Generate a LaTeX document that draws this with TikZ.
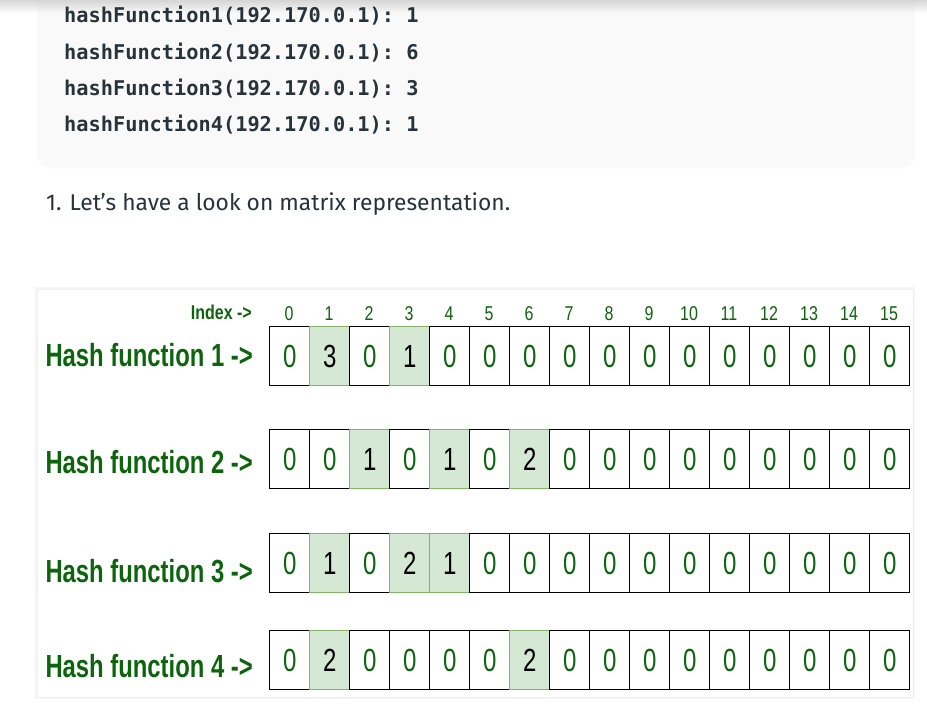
\documentclass[tikz,border=0pt]{standalone}
\usepackage{fontspec}
\setmainfont{Liberation Sans}
\setmonofont{DejaVu Sans Mono}
\newfontfamily\bodyfont{Fira Sans}
\usetikzlibrary{fadings}
\definecolor{codebg}{HTML}{F9F9F9}
\definecolor{ink}{HTML}{273239}
\definecolor{gfg}{RGB}{12,100,12}
\definecolor{hifill}{HTML}{D5E8D4}
\definecolor{hidraw}{HTML}{82B366}
\tikzfading[name=fadedown, top color=transparent!0, bottom color=transparent!100]
\begin{document}
\begin{tikzpicture}[x=1pt,y=-1pt,
  codeline/.style={anchor=base west, inner sep=0pt, font=\fontsize{20.3}{24}\ttfamily\bfseries, text=ink},
  cell/.style={draw=black, line width=1.4pt, fill=white, text=gfg, minimum width=40pt, minimum height=59pt, inner sep=0pt, anchor=north west, font=\fontsize{32}{36}\selectfont},
  hicell/.style={cell, draw=hidraw, fill=hifill, text=black},
  rowlabel/.style={anchor=base east, inner sep=0pt, text=gfg, font=\fontsize{32}{36}\selectfont\bfseries},
  idxlabel/.style={anchor=base, inner sep=0pt, text=gfg, font=\fontsize{20}{24}\selectfont}
]
\useasboundingbox (0,0) rectangle (927,720);
\fill[white] (0,0) rectangle (927,720);
% code box
\fill[codebg, rounded corners=14pt] (37,-30) rectangle (915,168);
\fill[black!16, path fading=fadedown] (0,0) rectangle (927,13);
\node[codeline] (c1) at (64,23)  {hashFunction1(192.170.0.1): 1};
\node[codeline] (c2) at (64,59)  {hashFunction2(192.170.0.1): 6};
\node[codeline] (c3) at (64,95)  {hashFunction3(192.170.0.1): 3};
\node[codeline] (c4) at (64,131) {hashFunction4(192.170.0.1): 1};
% sentence
\node[anchor=base west, inner sep=0pt, text=ink, font=\bodyfont\fontsize{22.8}{26}\selectfont] (intro) at (46,210) {1. Let’s have a look on matrix representation.};
% panel
\fill[black!4] (35,287) rectangle (915,699);
\fill[white, draw=black!6, line width=1pt] (37,289) rectangle (913,697);
% index row
\node[idxlabel, anchor=base east, font=\fontsize{20}{24}\selectfont\bfseries] (idx) at (252,319) {\scalebox{0.8}[1]{Index ->}};
\foreach \i in {0,...,15} {
  \node[idxlabel] (i\i) at (289+40*\i,320) {\scalebox{0.8}[1]{\i}};
}
% rows
\foreach \vals/\top/\base [count=\r] in {
  {0,3,0,1,0,0,0,0,0,0,0,0,0,0,0,0}/326/366,
  {0,0,1,0,1,0,2,0,0,0,0,0,0,0,0,0}/429/473,
  {0,1,0,2,1,0,0,0,0,0,0,0,0,0,0,0}/533/582,
  {0,2,0,0,0,0,2,0,0,0,0,0,0,0,0,0}/630/677} {
  \node[rowlabel] (h\r) at (253,\base) {\scalebox{0.745}[1]{Hash function \r\ ->}};
  \foreach \v [count=\j from 0] in \vals {
    \ifnum\v=0
      \node[cell] (cell-\r-\j) at (269+40*\j,\top) {\scalebox{0.75}[1]{\v}};
    \else
      \node[hicell] (cell-\r-\j) at (269+40*\j,\top) {\scalebox{0.75}[1]{\v}};
    \fi
  }
}
\end{tikzpicture}
\end{document}
